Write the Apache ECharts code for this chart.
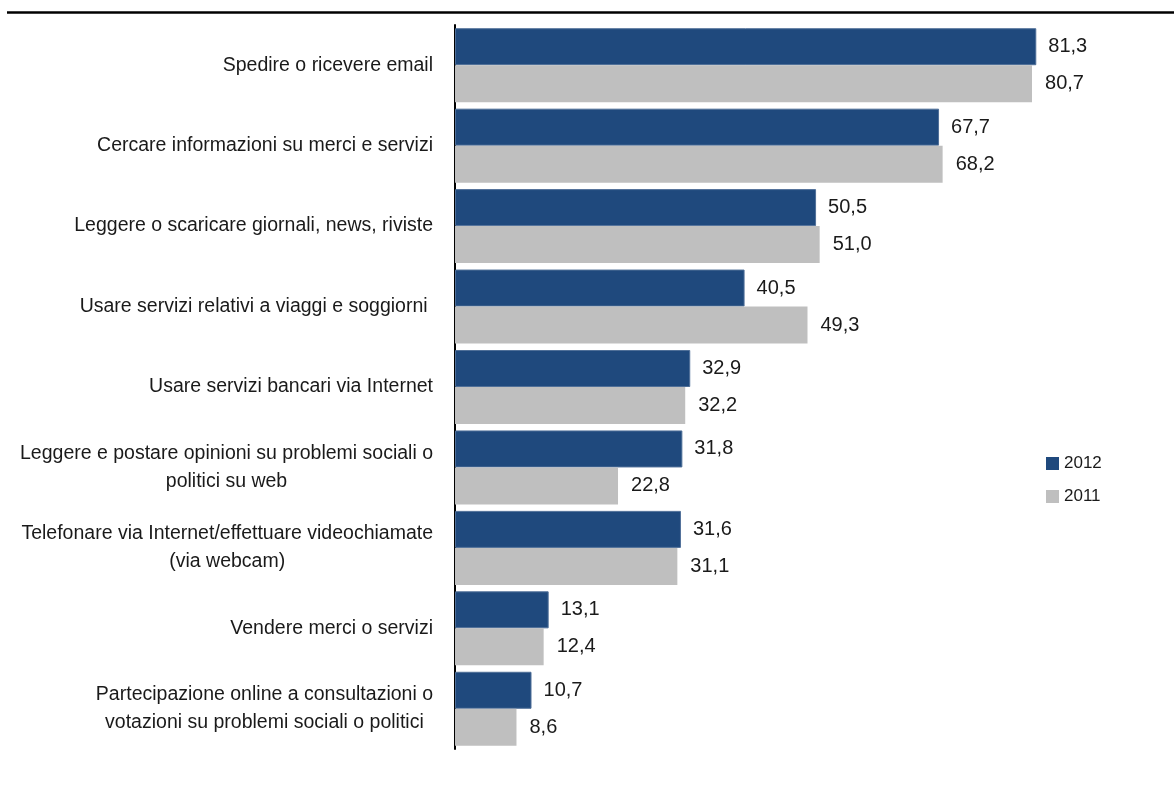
<!DOCTYPE html>
<html>
<head>
<meta charset="utf-8">
<script src="https://cdn.jsdelivr.net/npm/echarts@6/dist/echarts.min.js"></script>
<style>
  html, body { margin: 0; padding: 0; background: #fff; }
  #main { width: 1174px; height: 789px; }
</style>
</head>
<body>
<div id="main"></div>
<script>
// categorie (dall'alto in basso)
var categories = [
  'Spedire o ricevere email',
  'Cercare informazioni su merci e servizi',
  'Leggere o scaricare giornali, news, riviste',
  'Usare servizi relativi a viaggi e soggiorni ',
  'Usare servizi bancari via Internet',
  'Leggere e postare opinioni su problemi sociali o\npolitici su web',
  'Telefonare via Internet/effettuare videochiamate\n(via webcam)',
  'Vendere merci o servizi',
  'Partecipazione online a consultazioni o\nvotazioni su problemi sociali o politici'
];
var seriesNames = ['2012', '2011'];
var values2012 = [81.3, 67.7, 50.5, 40.5, 32.9, 31.8, 31.6, 13.1, 10.7];
var values2011 = [80.7, 68.2, 51.0, 49.3, 32.2, 22.8, 31.1, 12.4, 8.6];

var blue = '#1F497D';
var grey = '#BFBFBF';
var font = 'Liberation Sans, Arial, sans-serif';

var chart = echarts.init(document.getElementById('main'));

// etichette con la virgola decimale
function fmt(p) {
  return p.value.toFixed(1).replace('.', ',');
}

var option = {
  animation: false,
  backgroundColor: '#fff',
  textStyle: { fontFamily: font },
  grid: { left: 455, right: 4, top: 25, height: 724 },
  legend: {
    orient: 'vertical',
    left: 1046,
    top: 455,
    padding: 0,
    itemWidth: 13,
    itemHeight: 13,
    itemGap: 16,
    icon: 'rect',
    data: seriesNames,
    itemStyle: { borderWidth: 0 },
    textStyle: { fontSize: 17, color: '#1a1a1a', fontFamily: font, padding: [0, 0, 0, 0] }
  },
  xAxis: {
    type: 'value',
    min: 0,
    max: 100,
    show: false
  },
  yAxis: {
    type: 'category',
    data: categories,
    inverse: true,
    axisLine: { show: true, lineStyle: { color: '#000', width: 2 } },
    axisTick: { show: false },
    axisLabel: {
      margin: 22,
      color: '#1a1a1a',
      fontSize: 19.5,
      lineHeight: 28,
      fontFamily: font,
      formatter: function (v) {
        return v.split('\n').map(function (s) { return '{c|' + s + '}'; }).join('\n');
      },
      rich: {
        c: { align: 'center', fontSize: 19.5, lineHeight: 28, color: '#1a1a1a', fontFamily: font }
      }
    }
  },
  series: [
    {
      name: seriesNames[0],
      type: 'bar',
      data: values2012,
      barWidth: 37,
      barGap: '0%',
      itemStyle: { color: blue, borderColor: '#4f6f98', borderWidth: 1 },
      label: { show: true, position: 'right', distance: 12, fontSize: 20, color: '#1a1a1a', fontFamily: font, formatter: fmt }
    },
    {
      name: seriesNames[1],
      type: 'bar',
      data: values2011,
      barWidth: 37,
      barGap: '0%',
      itemStyle: { color: grey },
      label: { show: true, position: 'right', distance: 13, fontSize: 20, color: '#1a1a1a', fontFamily: font, formatter: fmt }
    }
  ],
  graphic: [
    {
      type: 'line',
      shape: { x1: 7, y1: 12.5, x2: 1174, y2: 12.5 },
      style: { stroke: '#000', lineWidth: 2.5 }
    }
  ]
};

chart.setOption(option);
</script>
</body>
</html>
